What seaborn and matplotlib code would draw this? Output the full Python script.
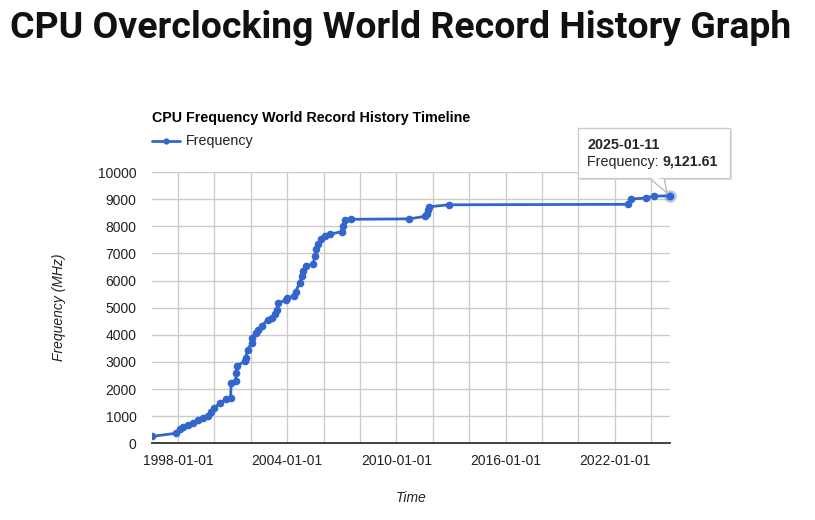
import matplotlib
matplotlib.use("Agg")
import matplotlib.pyplot as plt
import matplotlib.dates as mdates
from matplotlib.patches import Rectangle, Polygon
from matplotlib.ticker import FuncFormatter
import pandas as pd
import seaborn as sns

# record dates and frequencies (MHz)
dates = ["1996-08-01", "1997-11-25", "1998-02-05", "1998-04-20", "1998-07-25",
         "1998-11-01", "1999-02-05", "1999-05-20", "1999-08-28", "1999-11-01",
         "1999-12-28", "2000-04-20", "2000-08-28", "2000-11-25", "2000-12-05",
         "2001-03-03", "2001-03-15", "2001-04-05", "2001-09-01", "2001-09-20",
         "2001-10-30", "2002-01-20", "2002-01-30", "2002-04-08", "2002-05-28",
         "2002-08-18", "2002-12-05", "2003-02-25", "2003-05-12", "2003-06-20",
         "2003-07-01", "2003-12-20", "2004-01-02", "2004-05-18", "2004-06-20",
         "2004-09-08", "2004-10-26", "2004-11-13", "2005-01-22", "2005-06-03",
         "2005-07-20", "2005-07-27", "2005-09-12", "2005-11-17", "2006-01-22",
         "2006-05-05", "2007-01-01", "2007-01-20", "2007-03-18", "2007-07-08",
         "2010-09-16", "2011-08-04", "2011-08-29", "2011-10-08", "2011-10-19",
         "2012-11-13", "2022-09-20", "2022-11-17", "2023-09-12", "2024-02-17",
         "2025-01-11"]
freq = [255, 370, 520, 615, 677,
        762, 862, 925, 1010, 1170,
        1295, 1480, 1628, 1665, 2220,
        2280, 2590, 2860, 3020, 3145,
        3450, 3700, 3885, 4070, 4190,
        4340, 4560, 4625, 4780, 4905,
        5180, 5275, 5365, 5425, 5585,
        5920, 6165, 6350, 6535, 6620,
        6905, 7150, 7335, 7520, 7645,
        7705, 7805, 8015, 8225, 8260,
        8275, 8370, 8470, 8595, 8720,
        8794, 8812, 9008, 9043, 9117,
        9121.61]

df = pd.DataFrame({"Time": pd.to_datetime(dates), "Frequency": freq})

sns.set_style("white")
plt.rcParams["font.family"] = ["Liberation Sans", "DejaVu Sans"]

fig = plt.figure(figsize=(8.15, 5.2), dpi=100)
W, H = 815, 520
ax = fig.add_axes([152 / W, (H - 443.3) / H, 518 / W, 271.2 / H])

blue = "#3366cc"
sns.lineplot(data=df, x="Time", y="Frequency", ax=ax, color=blue, lw=2,
             marker="o", markersize=5.5, markeredgewidth=0, legend=False,
             zorder=3)
# highlighted (selected) last point
last = df.iloc[-1]
ax.plot(last["Time"], last["Frequency"], "o", ms=9, color=blue, alpha=0.35,
        mec="none", zorder=4, clip_on=False)
ax.plot(last["Time"], last["Frequency"], "o", ms=5.5, color=blue, mec="none",
        zorder=5, clip_on=False)

ax.set_xlim(df["Time"].min(), df["Time"].max())
ax.set_ylim(0, 10000)
ax.set_yticks(range(0, 10001, 1000))

ax.xaxis.set_major_locator(mdates.YearLocator(2))
ax.xaxis.set_minor_locator(mdates.YearLocator(1))
ax.xaxis.set_major_formatter(FuncFormatter(
    lambda v, p: mdates.num2date(v).strftime("%Y-%m-%d")
    if mdates.num2date(v).year % 6 == 0 else ""))

ax.grid(True, which="major", color="#cccccc", lw=1)
ax.set_axisbelow(True)
for s in ["top", "right", "left"]:
    ax.spines[s].set_visible(False)
ax.spines["bottom"].set_color("#333333")
ax.spines["bottom"].set_linewidth(1.3)
ax.spines["bottom"].set_zorder(6)
ax.tick_params(axis="x", which="major", length=0, pad=8, labelsize=10,
               labelcolor="#222222")
ax.tick_params(axis="x", which="minor", direction="in", length=4,
               color="#bbbbbb", width=1)
ax.tick_params(axis="y", length=0, pad=11, labelsize=10, labelcolor="#222222")

ax.set_xlabel("Time", fontstyle="italic", fontsize=10, color="#222222",
              labelpad=16)
ax.set_ylabel("Frequency (MHz)", fontstyle="italic", fontsize=10,
              color="#222222", labelpad=23)

# page heading
fig.text(10 / W, 1 - 28 / H, "CPU Overclocking World Record History Graph",
         fontsize=26.9, fontweight="bold", family=["Roboto", "DejaVu Sans"],
         va="center", ha="left", color="#111111")

# chart title and legend
fig.text(152 / W, 1 - 118 / H, "CPU Frequency World Record History Timeline",
         fontsize=10.3, fontweight="bold", va="center", ha="left",
         color="#000000")
fig.add_artist(plt.Line2D([152 / W, 180 / W], [1 - 141 / H, 1 - 141 / H],
                          color=blue, lw=2))
fig.add_artist(plt.Line2D([166 / W], [1 - 141 / H], color=blue, marker="o",
                          ms=4.5, mec="none"))
fig.text(186 / W, 1 - 141 / H, "Frequency", fontsize=10.3, va="center",
         ha="left", color="#222222")

# tooltip
fig.canvas.draw()
px, py = ax.transData.transform((mdates.date2num(last["Time"]),
                                 last["Frequency"]))
bx0, by0, bx1, by1 = 578, H - 178, 730, H - 128
fig.add_artist(Rectangle((bx0 + 2, by0 - 2), bx1 - bx0, by1 - by0,
                         transform=None, fc="#dddddd", ec="none", zorder=8))
fig.add_artist(Polygon([(648, by0 + 1), (px - 3, py + 3), (664, by0 + 1)],
                       closed=True, transform=None, fc="white",
                       ec="#bbbbbb", lw=1, zorder=9))
fig.add_artist(Rectangle((bx0, by0), bx1 - bx0, by1 - by0, transform=None,
                         fc="white", ec="#cccccc", lw=1, zorder=9))
fig.add_artist(Polygon([(649, by0 + 1.2), (663, by0 + 1.2), (656, by0 - 2)],
                       closed=True, transform=None, fc="white", ec="none",
                       zorder=10))
fig.text(587 / W, 1 - 145 / H, last["Time"].strftime("%Y-%m-%d"),
         fontsize=10.3, fontweight="bold", va="center", ha="left", zorder=11)
t1 = fig.text(587 / W, 1 - 162 / H, "Frequency: ", fontsize=10.3,
              va="center", ha="left", zorder=11, color="#222222")
fig.canvas.draw()
bb = t1.get_window_extent()
fig.text(bb.x1 / W, 1 - 162 / H, f"{last['Frequency']:,.2f}", fontsize=10.3,
         fontweight="bold", va="center", ha="left", zorder=11)

fig.savefig("out.png", dpi=100)
